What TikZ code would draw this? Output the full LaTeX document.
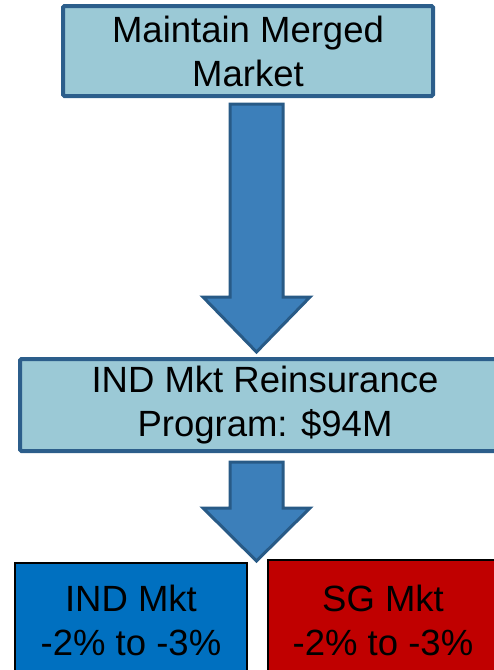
\documentclass[tikz,border=0pt]{standalone}
\usepackage{fontspec}
\setmainfont{Liberation Sans}
\definecolor{boxfill}{HTML}{9BC9D6}
\definecolor{boxline}{HTML}{2C5E8B}
\definecolor{arrfill}{HTML}{3C7FBA}
\definecolor{arrline}{HTML}{285A86}
\definecolor{indblue}{HTML}{0070C0}
\definecolor{sgred}{HTML}{C00000}
\begin{document}
\begin{tikzpicture}[x=1pt,y=-1pt,
  bigtext/.style={font=\fontsize{36.5}{44}\selectfont, align=center, text=black},
  topbox/.style={draw=boxline, fill=boxfill, line width=4pt, rounded corners=1.5pt, inner sep=0pt, bigtext},
  mktbox/.style={draw=black, line width=1.2pt, inner sep=0pt, bigtext},
  blockarrow/.style={draw=arrline, fill=arrfill, line width=3pt, line join=miter}]
\useasboundingbox (0,0) rectangle (494,670);
\clip (0,0) rectangle (494,670);
% boxes
\node[topbox, minimum width=370pt, minimum height=90pt] (top) at (248,51) {Maintain Merged\\Market};
\node[topbox, minimum width=490pt, minimum height=92pt] (mid) at (265,405) {IND Mkt Reinsurance\\Program: \$94M};
\node[mktbox, fill=indblue, minimum width=232pt, minimum height=114pt] (ind) at (131,620) {IND Mkt\\-2\% to -3\%};
\node[mktbox, fill=sgred, minimum width=230pt, minimum height=120pt] (sg) at (383,620) {SG Mkt\\-2\% to -3\%};
% block arrows
\draw[blockarrow] (230,104) -- (283,104) -- (283,297) -- (310,297) -- (256.5,352) -- (203,297) -- (230,297) -- cycle;
\draw[blockarrow] (230,462) -- (283,462) -- (283,508) -- (310,508) -- (256.5,561) -- (203,508) -- (230,508) -- cycle;
\end{tikzpicture}
\end{document}
